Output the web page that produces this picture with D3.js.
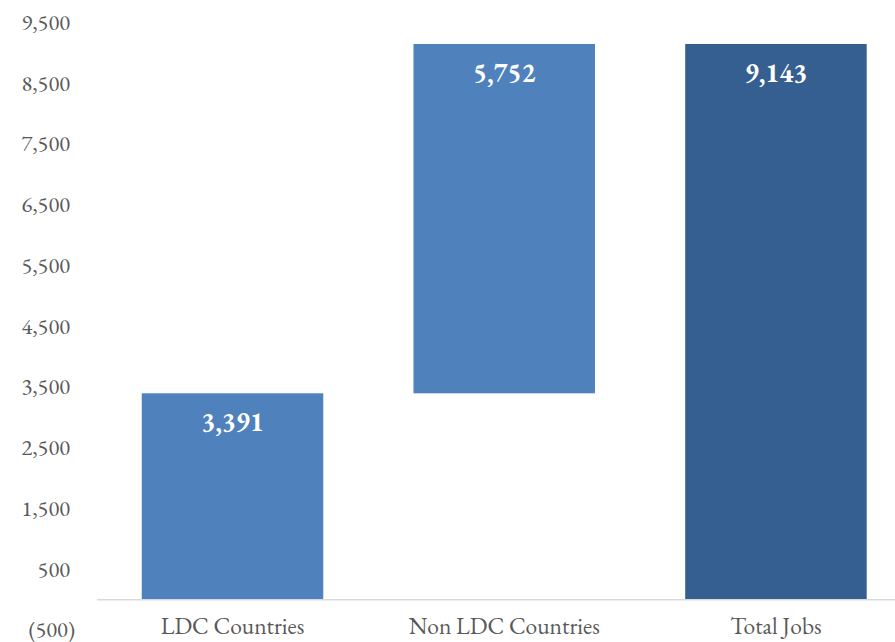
<!DOCTYPE html>
<html>
<head>
<meta charset="utf-8">
<script src="https://cdn.jsdelivr.net/npm/d3@7"></script>
<style>
  html, body { margin: 0; padding: 0; background: #fff; }
  svg { display: block; }
</style>
</head>
<body>
<svg id="chart" width="895" height="642"></svg>
<script>
const categories = ["LDC Countries", "Non LDC Countries", "Total Jobs"];
const barStart = [0, 3391, 0];
const barEnd = [3391, 9143, 9143];
const labels = ["3,391", "5,752", "9,143"];
const isTotal = [false, false, true];
const tickValues = [-500, 500, 1500, 2500, 3500, 4500, 5500, 6500, 7500, 8500, 9500];

const svg = d3.select("#chart");
const serif = "'EB Garamond', Garamond, 'Liberation Serif', 'DejaVu Serif', serif";

const x = d3.scaleBand().domain(categories).range([96.65, 911.8])
  .paddingInner(0.332).paddingOuter(0.166);
const y = d3.scaleLinear().domain([-500, 9500]).range([629.6, 22.3]);

// Y axis (labels only)
const yAxis = svg.append("g").attr("transform", "translate(70,0)")
  .call(d3.axisLeft(y).tickValues(tickValues).tickSize(0).tickPadding(0)
    .tickFormat(v => v < 0 ? "(" + d3.format(",")(-v) + ")" : d3.format(",")(v)));
yAxis.select(".domain").remove();
yAxis.selectAll("text")
  .attr("x", v => v < 0 ? 5 : 0)
  .style("font-family", serif).style("font-size", "22.5px").attr("fill", "#595959");

// Bars
svg.append("g").selectAll("rect").data(categories).join("rect")
  .attr("x", d => x(d))
  .attr("width", x.bandwidth())
  .attr("y", (d, i) => y(barEnd[i]))
  .attr("height", (d, i) => y(barStart[i]) - y(barEnd[i]))
  .attr("fill", (d, i) => isTotal[i] ? "#365F91" : "#4F81BD");

// X axis
const xAxis = svg.append("g").attr("transform", `translate(0,${y(0)})`)
  .call(d3.axisBottom(x).tickSize(0).tickPadding(18));
xAxis.select(".domain").attr("stroke", "#D9D9D9").attr("stroke-width", 1.5);
xAxis.selectAll("text").style("font-family", serif).style("font-size", "23.5px").attr("fill", "#595959");

// Data labels
svg.append("g").selectAll("text").data(categories).join("text")
  .attr("x", d => x(d) + x.bandwidth() / 2)
  .attr("y", (d, i) => y(barEnd[i]) + 38)
  .attr("text-anchor", "middle")
  .style("font-family", serif).style("font-size", "26.5px").style("font-weight", "bold")
  .attr("fill", "#fff")
  .text((d, i) => labels[i]);
</script>
</body>
</html>
